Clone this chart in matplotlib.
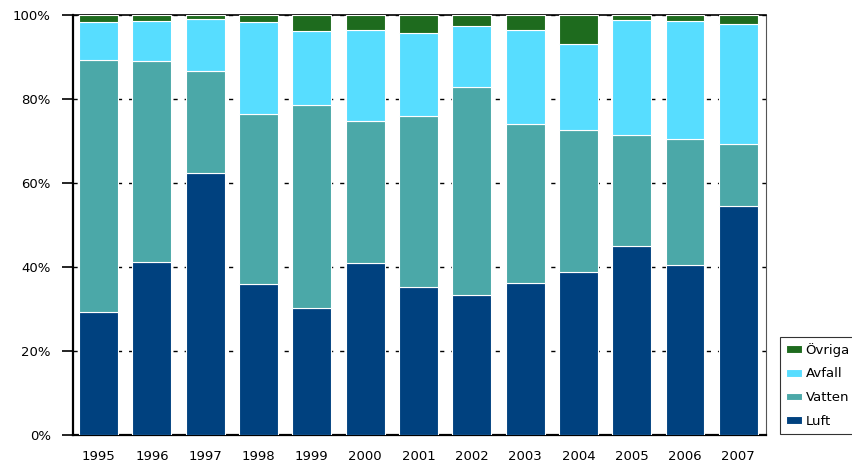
import matplotlib.pyplot as plt
import numpy as np

plt.rcParams["font.family"] = ["DejaVu Sans"]

years = ["1995", "1996", "1997", "1998", "1999", "2000", "2001",
         "2002", "2003", "2004", "2005", "2006", "2007"]

# shares in percent, bottom to top
luft = [29.4, 41.3, 62.5, 36.0, 30.2, 40.9, 35.2, 33.3, 36.3, 38.9, 45.1, 40.5, 54.6]
vatten = [60.0, 47.7, 24.2, 40.4, 48.4, 33.9, 40.8, 49.5, 37.8, 33.7, 26.4, 29.9, 14.6]
avfall = [9.0, 9.6, 12.3, 21.9, 17.7, 21.6, 19.6, 14.7, 22.3, 20.4, 27.3, 28.2, 28.7]
ovriga = [1.6, 1.4, 1.0, 1.7, 3.7, 3.6, 4.4, 2.5, 3.6, 7.0, 1.2, 1.4, 2.1]

series = [("Luft", luft, "#00417f"),
          ("Vatten", vatten, "#4ba8a8"),
          ("Avfall", avfall, "#57ddff"),
          ("Övriga", ovriga, "#1e6b1e")]

fig = plt.figure(figsize=(8.53, 4.68), dpi=100)
ax = fig.add_axes([73 / 853, 1 - 435 / 468, (766 - 73) / 853, (435 - 15) / 468])

x = np.arange(len(years))
bottom = np.zeros(len(years))
handles = []
for name, vals, color in series:
    b = ax.bar(x, vals, bottom=bottom, width=0.73, color=color,
               edgecolor="white", linewidth=0.8, zorder=3, label=name)
    handles.append(b)
    bottom += np.array(vals)

ax.set_ylim(0, 100)
ax.set_xlim(-0.48, 12.52)
ax.set_yticks([0, 20, 40, 60, 80, 100])
ax.set_yticklabels([f"{v}%" for v in range(0, 101, 20)], fontsize=9.5)
ax.set_xticks(x)
ax.set_xticklabels(years, fontsize=9.5)
ax.tick_params(axis="x", length=0, pad=11)
ax.tick_params(axis="y", length=8, width=1.2, direction="out", pad=8)

ax.yaxis.grid(True, color="black", linestyle=(0, (3, 5)), linewidth=1, zorder=0)
ax.set_axisbelow(True)

ax.spines["left"].set_linewidth(1.6)
ax.spines["bottom"].set_linewidth(1.6)
ax.spines["top"].set_linewidth(1.2)
ax.spines["right"].set_linewidth(0.8)
ax.spines["right"].set_color("#555555")

leg = fig.legend(handles[::-1], [s[0] for s in series][::-1],
                 loc="upper left", bbox_to_anchor=(780 / 853, 1 - 337 / 468),
                 fontsize=9.5, frameon=True, fancybox=False, edgecolor="black",
                 handlelength=1.2, handleheight=0.5, handletextpad=0.3,
                 labelspacing=0.8, borderpad=0.45, borderaxespad=0)
leg.get_frame().set_linewidth(0.8)

fig.savefig("out.png", dpi=100)
